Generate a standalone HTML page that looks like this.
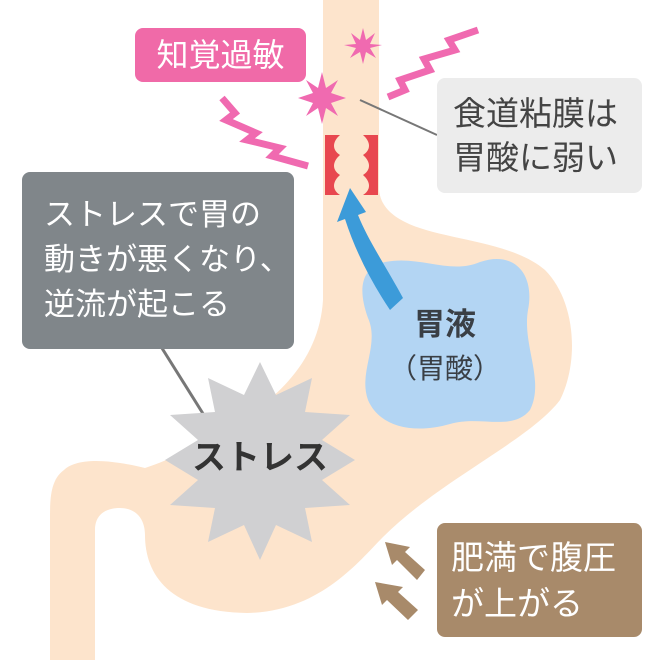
<!DOCTYPE html>
<html><head><meta charset="utf-8"><style>
html,body{margin:0;padding:0;background:#fff}
body{width:660px;height:660px;overflow:hidden;position:relative;font-family:"Liberation Sans","Noto Sans CJK JP",sans-serif}
.b{position:absolute;border-radius:8px;box-sizing:border-box;white-space:nowrap}
</style></head><body>
<svg width="660" height="660" style="position:absolute;left:0;top:0">
<path d="M323,0 L323,300 C320,350 290,390 240,420 C200,445 170,460 145,468 C120,462 80,455 64,470 C50,480 50,500 50,520 L50,660 L95,660 L95,530 C95,515 105,508 120,508 C135,508 145,518 145,535 C145,575 170,612 247,613 C320,612 360,560 383,537 C440,480 530,440 560,400 C580,360 575,300 545,270 C510,240 440,240 405,222 C385,212 380,200 379,190 L379,0 Z" fill="#fde4cc"/>
<path d="M385,262 C420,255 450,275 480,262 C515,250 535,275 528,310 C522,345 545,380 530,410 C512,432 480,415 450,424 C415,434 380,428 368,400 C358,372 380,345 368,318 C358,290 360,268 385,262 Z" fill="#b3d5f3"/>
<path d="M403,298 C385,265 368,240 358,215 L366,212 L350,188 L337,222 L345,219 C355,250 370,280 390,310 Z" fill="#3c9bd9"/>
<path d="M325,135 L340,135 C332,142 332,150 340,155 C332,162 332,170 340,175 C332,182 332,190 340,195 L325,195 Z" fill="#e8474f"/>
<path d="M378,135 L363,135 C371,142 371,150 363,155 C371,162 371,170 363,175 C371,182 371,190 363,195 L378,195 Z" fill="#e8474f"/>
<g fill="#f06ab0">
<polygon points="363,28 366,40 375,33 370,44 382,45 370,48 376,58 366,52 363,64 360,52 350,58 356,48 344,45 356,44 351,33 360,40"/>
<polygon points="322,72 326,88 338,80 331,93 346,98 331,103 338,116 326,108 322,124 318,108 306,116 313,103 298,98 313,93 306,80 318,88"/>
</g>
<polyline points="388,75 405,68 400,58 430,48 424,37 455,28 449,18 478,8" fill="none" stroke="#f06ab0" stroke-width="7" transform="translate(0,22)"/>
<polyline points="222,110 235,125 226,132 256,145 247,152 280,160 272,168 308,178" fill="none" stroke="#f06ab0" stroke-width="7" transform="translate(0,-12)"/>
<line x1="360" y1="100" x2="437" y2="135" stroke="#777" stroke-width="2"/>
<line x1="160" y1="345" x2="207" y2="420" stroke="#777" stroke-width="3"/>
<polygon points="260,362 276,395 312,378 305,412 350,415 322,440 355,460 322,480 350,505 305,508 312,542 276,525 260,560 244,525 208,542 215,508 170,505 198,480 165,460 198,440 170,415 215,412 208,378 244,395" fill="#d0d0d2"/>
<g fill="#a88a6a">
<polygon points="425,570 405,552 410,547 385,542 392,565 397,560 417,580"/>
<polygon points="418,610 398,592 403,587 375,582 382,605 387,600 408,620"/>
</g>
</svg>
<div style="position:absolute;left:385px;top:306px;width:120px;text-align:center;font-size:31px;font-weight:bold;color:#3a3f45;line-height:38px">胃液</div>
<div style="position:absolute;left:375px;top:350px;width:140px;text-align:center;font-size:28px;color:#3a3f45;line-height:38px">（胃酸）</div>
<div style="position:absolute;left:160px;top:438px;width:200px;text-align:center;font-size:34px;font-weight:bold;color:#333;line-height:40px">ストレス</div>
<div class="b" style="left:135px;top:28px;width:171px;height:54px;background:#f06aa8;color:#fff;font-size:32px;line-height:54px;text-align:center">知覚過敏</div>
<div class="b" style="left:437px;top:78px;width:205px;height:115px;background:#ececec;color:#444;font-size:33px;line-height:44px;padding:14px 0 0 16px">食道粘膜は<br>胃酸に弱い</div>
<div class="b" style="left:22px;top:172px;width:272px;height:177px;background:#80868a;color:#fff;font-size:31px;line-height:45px;padding:20px 0 0 22px">ストレスで胃の<br>動きが悪くなり、<br>逆流が起こる</div>
<div class="b" style="left:437px;top:523px;width:205px;height:114px;background:#a88a6a;color:#fff;font-size:33px;line-height:46px;padding:12px 0 0 14px">肥満で腹圧<br>が上がる</div>
</body></html>
